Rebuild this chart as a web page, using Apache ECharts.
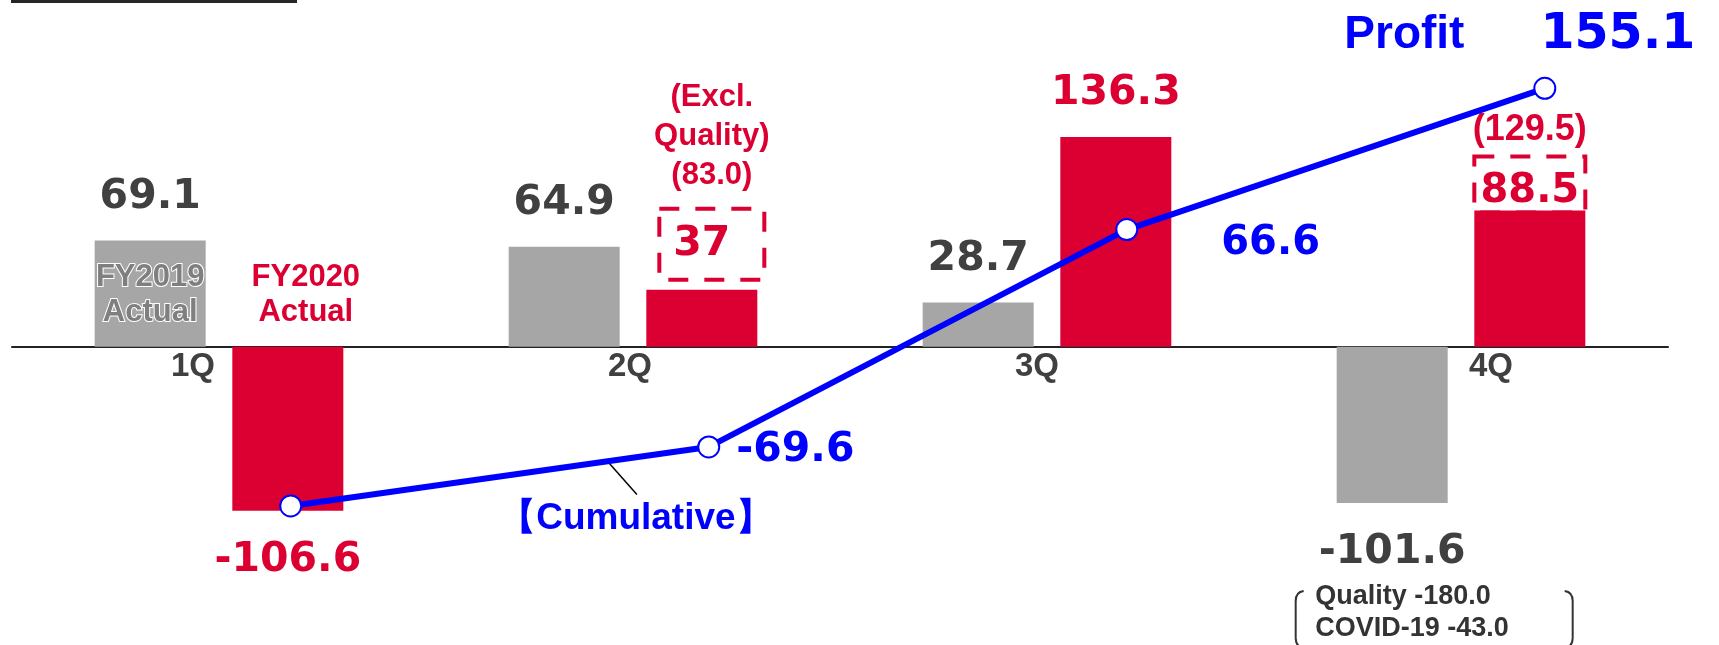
<!DOCTYPE html>
<html>
<head>
<meta charset="utf-8">
<script src="https://cdn.jsdelivr.net/npm/echarts@6/dist/echarts.min.js"></script>
<style>
html,body{margin:0;padding:0;background:#fff;}
#c{width:1719px;height:645px;}
</style>
</head>
<body>
<div id="c"></div>
<script>
// ---------------- data ----------------
const categories = ['1Q', '2Q', '3Q', '4Q'];
const fy2019 = [69.1, 64.9, 28.7, -101.6];
const fy2020 = [-106.6, 37, 136.3, 88.5];
const cumulative = [-106.6, -69.6, 66.6, 155.1];
const exclQuality = [null, 83.0, null, 129.5];
const exclNote = ['(Excl.', 'Quality)'];
const fy2019Breakdown = ['Quality -180.0', 'COVID-19 -43.0'];
const seriesNames = ['FY2019\nActual', 'FY2020\nActual', 'Profit'];
const cumulativeNote = '【Cumulative】';

// ---------------- style ----------------
const NUM = '"DejaVu Sans", Verdana, sans-serif';
const TXT = '"Liberation Sans", Arial, sans-serif';
const RED = '#DC0032', GREY = '#A6A6A6', BLUE = '#0000FF', DARK = '#404040';
const BAR_W = 111, GAP_RATIO = 0.24;
const BAR_OFF = (BAR_W + BAR_W * GAP_RATIO) / 2;
const GRID_TOP = 80, GRID_BOTTOM = 45, H = 645;

const chart = echarts.init(document.getElementById('c'), null, {renderer: 'canvas'});

const numLabel = (color, size) => ({
  fontFamily: NUM, fontWeight: 'bold', fontSize: size, color: color
});

const greyData = fy2019.map(v => ({
  value: v,
  label: {position: v < 0 ? 'bottom' : 'top', distance: v < 0 ? 29 : 23}
}));

const redData = fy2020.map((v, i) => {
  const item = {value: v, label: {position: v < 0 ? 'bottom' : 'top', distance: v < 0 ? 29 : 23}};
  if (i === 1) {
    item.label.distance = 10;
    item.label.offset = [10, 0];
    item.label.formatter = exclNote.map(t => '{ex|' + t + '}').join('\n') +
      '\n{ex|(' + exclQuality[i].toFixed(1) + ')}\n{sp| }\n{box|' + v + '}';
  } else if (i === 3) {
    item.label.distance = -2;
    item.label.formatter = '{ex2|(' + exclQuality[i].toFixed(1) + ')}\n{box2|' + v + '}';
  }
  return item;
});

const lineData = cumulative.map((v, i) => {
  const item = {value: v};
  if (i === 0) item.label = {show: false};
  if (i === 1) item.label = {position: 'right', distance: 16, offset: [0, 3]};
  if (i === 2) item.label = {position: 'right', distance: 83, offset: [0, 14], fontSize: 40};
  if (i === 3) item.label = {
    position: [-189, -66], align: 'left', verticalAlign: 'top',
    formatter: '{p|' + seriesNames[2] + '}{v|' + v + '}'
  };
  return item;
});

const axisRich = {};
[[0, 52, 0, 0], [0, 6, 0, 0], [0, 20, 0, 0], [0, 0, 0, 60]].forEach((p, i) => {
  axisRich['l' + i] = {fontFamily: TXT, fontWeight: 'bold', fontSize: 33, color: DARK, padding: p};
});

const option = {
  animation: false,
  backgroundColor: '#fff',
  grid: [
    {left: 12, right: 51, top: GRID_TOP, bottom: GRID_BOTTOM},
    {left: 290.7, right: 174.2, top: GRID_TOP, bottom: GRID_BOTTOM}
  ],
  xAxis: [
    {
      type: 'category', gridIndex: 0, data: categories, boundaryGap: true, position: 'bottom',
      axisLine: {show: true, onZero: false, lineStyle: {color: '#222', width: 2}},
      axisTick: {show: false},
      axisLabel: {margin: 4, formatter: (v, i) => '{l' + i + '|' + v + '}', rich: axisRich},
      splitLine: {show: false}
    },
    {type: 'category', gridIndex: 1, data: categories, boundaryGap: false, show: false}
  ],
  yAxis: [
    {type: 'value', gridIndex: 0, min: -164.7, max: 173.4, show: false, splitLine: {show: false}},
    {type: 'value', gridIndex: 1, min: -165.5, max: 160.3, show: false, splitLine: {show: false}}
  ],
  series: [
    {
      name: 'FY2019', type: 'bar', xAxisIndex: 0, yAxisIndex: 0,
      barWidth: BAR_W, barGap: (GAP_RATIO * 100) + '%',
      itemStyle: {color: GREY},
      label: Object.assign({show: true}, numLabel(DARK, 41)),
      data: greyData, z: 2
    },
    {
      name: 'FY2020', type: 'bar', xAxisIndex: 0, yAxisIndex: 0,
      barWidth: BAR_W, barGap: (GAP_RATIO * 100) + '%',
      itemStyle: {color: RED},
      label: Object.assign({show: true, rich: {
        ex: {fontFamily: TXT, fontWeight: 'bold', fontSize: 31, lineHeight: 39, color: RED},
        sp: {fontSize: 10, lineHeight: 14},
        box: {fontFamily: NUM, fontWeight: 'bold', fontSize: 41, color: RED, width: 85, height: 71,
              padding: [0, 20, 0, 0], align: 'center', borderColor: RED, borderWidth: 4, borderType: [20, 16]},
        ex2: {fontFamily: TXT, fontWeight: 'bold', fontSize: 36, lineHeight: 52, color: RED},
        box2: {fontFamily: NUM, fontWeight: 'bold', fontSize: 40, color: RED, width: 111, height: 41,
               padding: [15, 0, 0, 0], align: 'center', borderColor: RED, borderWidth: 4, borderType: [20, 16]}
      }}, numLabel(RED, 41)),
      data: redData, z: 2
    },
    {
      name: 'Profit', type: 'line', xAxisIndex: 1, yAxisIndex: 1,
      symbol: 'circle', symbolSize: 21,
      lineStyle: {color: BLUE, width: 6},
      itemStyle: {color: '#fff', borderColor: BLUE, borderWidth: 2},
      label: Object.assign({show: true, rich: {
        p: {fontFamily: TXT, fontWeight: 'bold', fontSize: 46, color: BLUE},
        v: {fontFamily: NUM, fontWeight: 'bold', fontSize: 49, color: BLUE, padding: [0, 0, 0, 76]}
      }}, numLabel(BLUE, 41)),
      data: lineData, z: 5
    }
  ]
};

chart.setOption(option);

// put the category axis (line + labels) on the zero of the bar value axis
const zeroY = chart.convertToPixel({yAxisIndex: 0}, 0);
chart.setOption({xAxis: [{offset: -((H - GRID_BOTTOM) - zeroY)}, {}]});

// ---------------- annotations positioned through the axes ----------------
const px0 = (i, v) => chart.convertToPixel({xAxisIndex: 0, yAxisIndex: 0}, [categories[i], v]);
const px1 = (i, v) => chart.convertToPixel({xAxisIndex: 1, yAxisIndex: 1}, [categories[i], v]);

const q1 = px0(0, 0);
const greyC1 = q1[0] - BAR_OFF, redC1 = q1[0] + BAR_OFF;
const q4b = px0(3, fy2019[3]);
const greyC4 = q4b[0] - BAR_OFF;

const a = px1(0, cumulative[0]), b = px1(1, cumulative[1]);
const t = 0.754;
const lx = a[0] + (b[0] - a[0]) * t, ly = a[1] + (b[1] - a[1]) * t - 2;

const bx0 = greyC4 - 96.5, bx1 = greyC4 + 180.5, by = q4b[1] + 88, bh = 57;
const bracket = (x, dir) => [
  {type: 'bezierCurve', z: 10, shape: {x1: x + 8 * dir, y1: by, cpx1: x, cpy1: by + 1, x2: x, y2: by + 10}, style: {stroke: '#333', lineWidth: 2, fill: null}},
  {type: 'line', z: 10, shape: {x1: x, y1: by + 10, x2: x, y2: by + bh - 10}, style: {stroke: '#333', lineWidth: 2}},
  {type: 'bezierCurve', z: 10, shape: {x1: x, y1: by + bh - 10, cpx1: x, cpy1: by + bh - 1, x2: x + 8 * dir, y2: by + bh}, style: {stroke: '#333', lineWidth: 2, fill: null}}
];

chart.setOption({
  graphic: [
    {type: 'line', shape: {x1: 11, y1: 1.5, x2: 297, y2: 1.5}, style: {stroke: '#262626', lineWidth: 3}},
    {type: 'text', x: greyC1, y: q1[1] - 52, z: 10,
     style: {text: seriesNames[0], font: 'bold 31px ' + TXT, fill: '#7F7F7F', stroke: '#fff', lineWidth: 2,
             align: 'center', verticalAlign: 'middle', lineHeight: 35}},
    {type: 'text', x: redC1 + 18, y: q1[1] - 52, z: 10,
     style: {text: seriesNames[1], font: 'bold 31px ' + TXT, fill: RED,
             align: 'center', verticalAlign: 'middle', lineHeight: 35}},
    {type: 'text', x: greyC4 - 77, y: q4b[1] + 109.5, z: 10,
     style: {text: fy2019Breakdown.join('\n'), font: 'bold 27px ' + TXT, fill: '#333',
             align: 'left', verticalAlign: 'middle', lineHeight: 32}}
  ].concat(bracket(bx0, 1), bracket(bx1, -1), [
    {type: 'line', z: 4, shape: {x1: lx, y1: ly, x2: lx + 31, y2: ly + 35}, style: {stroke: '#000', lineWidth: 1.5}},
    {type: 'text', x: lx + 30, y: ly + 59, z: 10,
     style: {text: cumulativeNote, font: 'bold 37px ' + TXT, fill: BLUE, align: 'center', verticalAlign: 'middle'}}
  ])
});
</script>
</body>
</html>
